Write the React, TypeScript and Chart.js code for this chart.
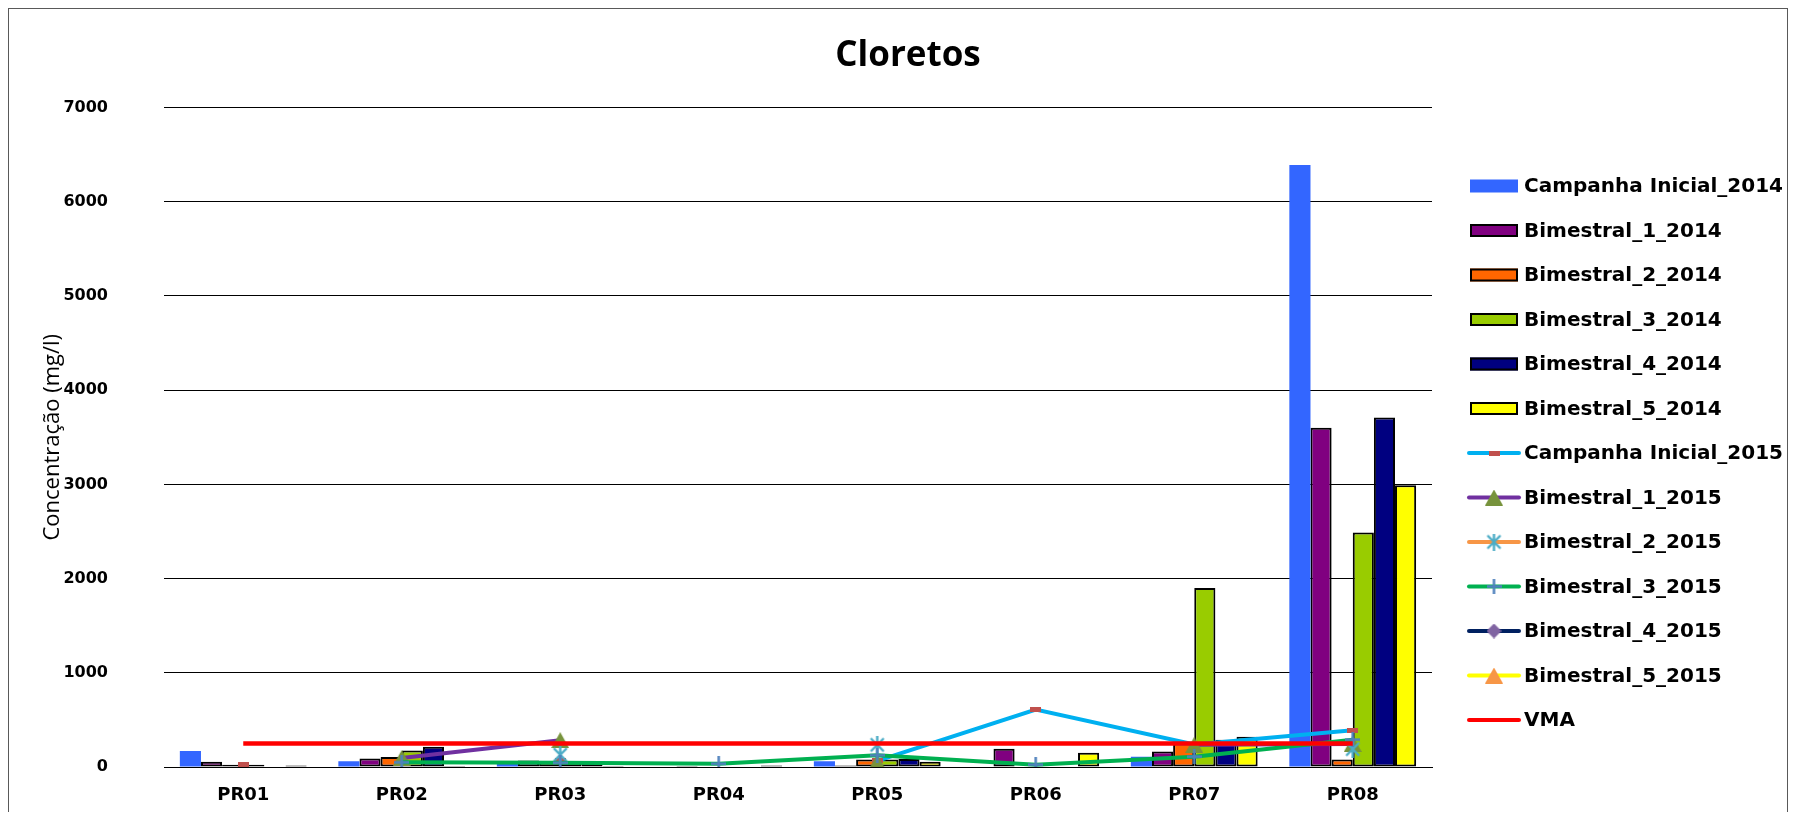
import React, { useEffect, useRef } from "react";
import { Chart, registerables } from "chart.js";

Chart.register(...registerables);

// ---------- data ----------
const categories = ["PR01", "PR02", "PR03", "PR04", "PR05", "PR06", "PR07", "PR08"];

const campanhaInicial2014 = [170, 60, 50, null, 60, null, 110, 6390];
const bimestral1_2014 = [55, 90, 70, 10, 15, 195, 165, 3600];
const bimestral2_2014 = [25, 105, 50, null, 80, null, 250, 80];
const bimestral3_2014 = [25, 175, 50, null, 80, null, 1900, 2490];
const bimestral4_2014 = [null, 215, 50, null, 85, null, 290, 3710];
const bimestral5_2014 = [15, 10, 10, 15, 55, 150, 320, 2990];

const campanhaInicial2015 = [25, null, 70, null, 65, 610, 240, 390];
const bimestral1_2015 = [null, 95, 285, null, 50, null, 235, 245];
const bimestral2_2015 = [null, null, 130, null, 235, null, null, 190];
const bimestral3_2015 = [null, 50, 45, 35, 125, 25, 110, 290];
const bimestral4_2015 = [null, null, null, null, null, null, null, null];
const bimestral5_2015 = [null, null, null, null, null, null, null, null];
const vma = [250, 250, 250, 250, 250, 250, 250, 250];

const yMin = 0;
const yMax = 7000;
const yStep = 1000;

const titleText = "Cloretos";
const yTitleText = "Concentração (mg/l)";

// ---------- marker images ----------
function makeCanvas(w: number, h: number, draw: (g: CanvasRenderingContext2D) => void) {
  const c = document.createElement("canvas");
  c.width = w;
  c.height = h;
  const g = c.getContext("2d") as CanvasRenderingContext2D;
  draw(g);
  return c;
}

function makeMarkers() {
  const dash = makeCanvas(11, 5, (g) => {
    g.fillStyle = "#C0504D";
    g.fillRect(0, 0, 11, 5);
  });
  const tri = (color: string) =>
    makeCanvas(18, 16, (g) => {
      g.fillStyle = color;
      g.beginPath();
      g.moveTo(9, 0);
      g.lineTo(18, 16);
      g.lineTo(0, 16);
      g.closePath();
      g.fill();
    });
  const aster = makeCanvas(17, 17, (g) => {
    g.strokeStyle = "#4BACC6";
    g.lineWidth = 2.4;
    g.beginPath();
    g.moveTo(8.5, 0);
    g.lineTo(8.5, 17);
    g.moveTo(2, 2);
    g.lineTo(15, 15);
    g.moveTo(15, 2);
    g.lineTo(2, 15);
    g.stroke();
  });
  const plus = makeCanvas(15, 15, (g) => {
    g.strokeStyle = "#4F81BD";
    g.lineWidth = 2.5;
    g.beginPath();
    g.moveTo(7.5, 0);
    g.lineTo(7.5, 15);
    g.moveTo(0, 7.5);
    g.lineTo(15, 7.5);
    g.stroke();
  });
  const diamond = makeCanvas(15, 15, (g) => {
    g.fillStyle = "#8064A2";
    g.beginPath();
    g.moveTo(7.5, 0);
    g.lineTo(15, 7.5);
    g.lineTo(7.5, 15);
    g.lineTo(0, 7.5);
    g.closePath();
    g.fill();
  });
  return { dash, triOlive: tri("#77933C"), triOrange: tri("#F79646"), aster, plus, diamond };
}

// ---------- custom legend ----------
const legendPlugin = {
  id: "excelLegend",
  afterDraw(chart: any) {
    const ctx: CanvasRenderingContext2D = chart.ctx;
    const x0 = 1461;
    const y0 = 177;
    const step = 44.5;
    ctx.save();
    chart.data.datasets.forEach((ds: any, i: number) => {
      const cy = y0 + i * step;
      if (ds.type === "bar") {
        ctx.fillStyle = ds.backgroundColor;
        ctx.fillRect(x0, cy - 6.5, 48, 13);
        if (ds.borderWidth > 0) {
          ctx.strokeStyle = "#000";
          ctx.lineWidth = 2;
          ctx.strokeRect(x0 + 1, cy - 5.5, 46, 11);
        }
      } else {
        ctx.strokeStyle = ds.borderColor;
        ctx.lineWidth = 4;
        ctx.lineCap = "round";
        ctx.beginPath();
        ctx.moveTo(x0 - 1, cy);
        ctx.lineTo(x0 + 49, cy);
        ctx.stroke();
        const img = ds.pointStyle;
        if (img && typeof img === "object") {
          ctx.drawImage(img, x0 + 24 - img.width / 2, cy - img.height / 2);
        }
      }
      ctx.fillStyle = "#000";
      ctx.font = 'bold 20px "DejaVu Sans"';
      ctx.textAlign = "left";
      ctx.textBaseline = "middle";
      ctx.fillText(ds.label, 1515, cy + 1);
    });
    ctx.restore();
  },
};

export default function App() {
  const ref = useRef<HTMLCanvasElement>(null);

  useEffect(() => {
    const canvas = ref.current;
    if (!canvas) return;
    const m = makeMarkers();

    const bar = (label: string, data: (number | null)[], color: string, border: boolean) => ({
      type: "bar" as const,
      label,
      data,
      backgroundColor: color,
      borderColor: "#000000",
      borderWidth: border ? 2 : 0,
      borderSkipped: false,
      barPercentage: 1,
      categoryPercentage: 0.8,
      order: 10,
    });
    const line = (
      label: string,
      data: (number | null)[],
      color: string,
      marker: any,
      order: number,
      width = 4
    ) => ({
      type: "line" as const,
      label,
      data,
      borderColor: color,
      backgroundColor: color,
      borderWidth: width,
      pointStyle: marker,
      pointRadius: marker ? 5 : 0,
      pointHoverRadius: marker ? 5 : 0,
      tension: 0,
      spanGaps: false,
      fill: false,
      order,
    });

    const chart = new Chart(canvas, {
      type: "bar",
      data: {
        labels: categories,
        datasets: [
          bar("Campanha Inicial_2014", campanhaInicial2014, "#3366FF", false),
          bar("Bimestral_1_2014", bimestral1_2014, "#800080", true),
          bar("Bimestral_2_2014", bimestral2_2014, "#FF6600", true),
          bar("Bimestral_3_2014", bimestral3_2014, "#99CC00", true),
          bar("Bimestral_4_2014", bimestral4_2014, "#000080", true),
          bar("Bimestral_5_2014", bimestral5_2014, "#FFFF00", true),
          line("Campanha Inicial_2015", campanhaInicial2015, "#00B0F0", m.dash, 6),
          line("Bimestral_1_2015", bimestral1_2015, "#7030A0", m.triOlive, 5),
          line("Bimestral_2_2015", bimestral2_2015, "#F79646", m.aster, 4),
          line("Bimestral_3_2015", bimestral3_2015, "#00B050", m.plus, 3),
          line("Bimestral_4_2015", bimestral4_2015, "#002060", m.diamond, 2),
          line("Bimestral_5_2015", bimestral5_2015, "#FFFF00", m.triOrange, 1),
          line("VMA", vma, "#FF0000", null, 0, 4.5),
        ] as any,
      },
      options: {
        responsive: false,
        animation: false,
        events: [],
        layout: { padding: { left: 20, right: 0, top: 0, bottom: 0 } },
        plugins: {
          legend: { display: false },
          tooltip: { enabled: false },
          title: {
            display: true,
            text: titleText,
            color: "#000",
            font: { family: "Open Sans", size: 35, weight: "bold" },
            padding: { top: 26, bottom: 30.5 },
          },
        },
        scales: {
          x: {
            grid: { display: false, drawTicks: false },
            border: { display: true, color: "#000", width: 1 },
            ticks: {
              padding: 18,
              color: "#000",
              font: { family: "DejaVu Sans", size: 18, weight: "bold" },
            },
            afterFit: (s: any) => {
              s.height = 52;
            },
          },
          y: {
            min: yMin,
            max: yMax,
            ticks: {
              stepSize: yStep,
              padding: 3,
              color: "#000",
              font: { family: "DejaVu Sans", size: 16, weight: "bold" },
              callback: (v: any) => String(v),
            },
            grid: {
              color: "#000",
              lineWidth: 1,
              drawTicks: true,
              tickLength: 53,
              tickColor: "rgba(0,0,0,0)",
            },
            border: { display: false },
            title: {
              display: true,
              text: yTitleText,
              color: "#000",
              font: { family: "Open Sans", size: 22 },
              padding: { top: 11, bottom: 0 },
            },
            afterFit: (s: any) => {
              s.width = 135;
            },
          },
          yR: {
            type: "linear",
            position: "right",
            display: true,
            grid: { display: false, drawTicks: false },
            border: { display: false },
            ticks: { display: false },
            afterFit: (s: any) => {
              s.width = 355;
            },
          },
        },
      } as any,
      plugins: [legendPlugin],
    });
    return () => chart.destroy();
  }, []);

  return (
    <div
      style={{
        width: 1780,
        height: 812,
        marginBottom: -8,
        border: "1px solid #595959",
        boxSizing: "border-box",
        background: "#fff",
      }}
    >
      <canvas ref={ref} width={1778} height={810} style={{ display: "block" }} />
    </div>
  );
}
